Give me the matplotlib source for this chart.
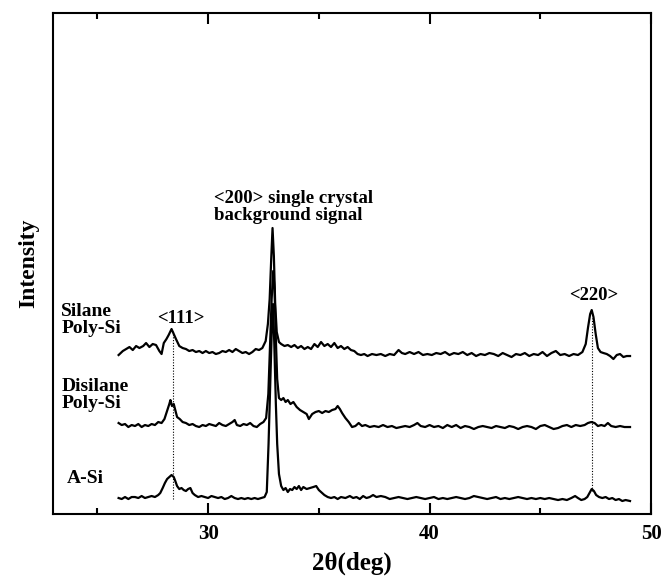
import matplotlib
matplotlib.use("Agg")
import matplotlib.pyplot as plt
from matplotlib.ticker import MultipleLocator

plt.rcParams['font.family'] = ['Liberation Serif', 'DejaVu Serif']
plt.rcParams['font.weight'] = 'bold'

# XRD traces (2theta in deg, intensity in arbitrary units, already offset)
silane_x = [25.96, 26.15, 26.3, 26.45, 26.6, 26.75, 26.9, 27.07, 27.2, 27.35, 27.5, 27.65, 27.8, 27.9,
            28.0, 28.12, 28.22, 28.35, 28.45, 28.55, 28.7, 28.85, 29.0, 29.15, 29.3, 29.45, 29.6, 29.75,
            29.9, 30.05, 30.2, 30.35, 30.5, 30.65, 30.8, 30.95, 31.1, 31.25, 31.4, 31.55, 31.7, 31.85,
            32.0, 32.15, 32.3, 32.45, 32.6, 32.7, 32.78, 32.85, 32.91, 32.97, 33.03, 33.1, 33.2, 33.3,
            33.45, 33.6, 33.75, 33.9, 34.05, 34.2, 34.35, 34.5, 34.65, 34.8, 34.95, 35.1, 35.25, 35.4,
            35.55, 35.7, 35.85, 36.0, 36.15, 36.3, 36.45, 36.6, 36.75, 36.9, 37.05, 37.2, 37.4, 37.6,
            37.8, 38.0, 38.2, 38.4, 38.6, 38.75, 38.9, 39.1, 39.3, 39.5, 39.7, 39.9, 40.1, 40.3, 40.5,
            40.7, 40.9, 41.1, 41.3, 41.5, 41.7, 41.9, 42.1, 42.3, 42.5, 42.7, 42.9, 43.1, 43.3, 43.5,
            43.7, 43.9, 44.1, 44.3, 44.5, 44.7, 44.9, 45.1, 45.3, 45.5, 45.7, 45.9, 46.1, 46.3, 46.5,
            46.7, 46.9, 47.05, 47.15, 47.25, 47.32, 47.4, 47.5, 47.6, 47.72, 47.85, 48.0, 48.15, 48.3,
            48.45, 48.6, 48.75, 48.9, 49.05]
silane_y = [159, 163, 165, 167, 164, 168, 166, 168, 171, 167, 170, 169, 163, 160,
            171, 175, 179, 185, 180, 175, 168, 166, 165, 163, 164, 162, 163, 161,
            163, 161, 162, 160, 161, 163, 162, 164, 162, 165, 163, 161, 162, 160,
            162, 165, 164, 166, 173, 190, 215, 255, 286, 258, 210, 182, 172, 170,
            168, 169, 167, 169, 166, 168, 165, 167, 165, 170, 167, 172, 168, 170,
            167, 171, 166, 168, 165, 167, 164, 163, 160, 159, 160, 158, 160, 159,
            160, 158, 160, 159, 164, 161, 160, 162, 160, 162, 159, 160, 159, 161, 160,
            162, 159, 161, 160, 162, 159, 161, 158, 160, 159, 161, 160, 158, 161, 159,
            157, 160, 159, 161, 158, 160, 159, 162, 158, 161, 163, 159, 160, 158, 160,
            159, 162, 170, 186, 200, 204, 197, 180, 166, 162, 161, 160, 158, 155,
            159, 160, 157, 158, 158]

disilane_x = [25.96, 26.1, 26.25, 26.4, 26.55, 26.7, 26.85, 27.0, 27.15, 27.3, 27.45, 27.6, 27.75, 27.9,
              28.03, 28.15, 28.25, 28.3, 28.37, 28.45, 28.52, 28.6, 28.72, 28.85, 29.0, 29.15, 29.3,
              29.45, 29.6, 29.75, 29.9, 30.05, 30.2, 30.35, 30.5, 30.65, 30.8, 30.95, 31.1, 31.2, 31.3,
              31.45, 31.6, 31.75, 31.9, 32.05, 32.2, 32.35, 32.5, 32.62, 32.72, 32.8, 32.87, 32.94, 33.0,
              33.06, 33.12, 33.2, 33.3, 33.4, 33.5, 33.6, 33.72, 33.85, 34.0, 34.15, 34.3, 34.45, 34.55,
              34.7, 34.85, 35.0, 35.15, 35.3, 35.45, 35.6, 35.75, 35.85, 35.95, 36.05, 36.2, 36.35, 36.5,
              36.65, 36.8, 36.95, 37.1, 37.3, 37.5, 37.7, 37.9, 38.1, 38.3, 38.5, 38.7, 38.9, 39.1, 39.3,
              39.45, 39.6, 39.8, 40.0, 40.2, 40.4, 40.6, 40.8, 41.0, 41.2, 41.4, 41.6, 41.8, 42.0, 42.2,
              42.4, 42.6, 42.8, 43.0, 43.2, 43.4, 43.6, 43.8, 44.0, 44.2, 44.4, 44.6, 44.8, 45.0, 45.2,
              45.4, 45.6, 45.8, 46.0, 46.2, 46.4, 46.6, 46.8, 47.0, 47.15, 47.3, 47.45, 47.6, 47.75, 47.9,
              48.05, 48.2, 48.4, 48.6, 48.8, 49.05]
disilane_y = [91, 89, 90, 87, 89, 88, 90, 87, 89, 88, 90, 89, 92, 91,
              95, 103, 110, 114, 108, 110, 104, 97, 95, 92, 91, 89, 90,
              88, 87, 89, 88, 90, 89, 88, 91, 89, 88, 90, 92, 94, 89,
              88, 90, 89, 91, 88, 87, 90, 92, 96, 120, 170, 215, 243, 225,
              175, 135, 116, 114, 116, 112, 114, 110, 112, 107, 104, 102, 100, 95,
              100, 102, 103, 101, 103, 102, 104, 105, 108, 105, 101, 96, 92, 87,
              88, 91, 88, 89, 87, 88, 87, 89, 87, 88, 86, 87, 88, 87, 89,
              91, 88, 87, 89, 87, 88, 86, 89, 87, 89, 86, 88, 87, 85, 87,
              88, 87, 86, 88, 87, 86, 88, 87, 85, 87, 88, 87, 85, 88, 89,
              87, 85, 86, 88, 89, 87, 89, 88, 89, 91, 92, 91, 88, 89, 88,
              91, 88, 87, 88, 87, 87]

asi_x = [25.96, 26.1, 26.25, 26.4, 26.55, 26.7, 26.85, 27.0, 27.15, 27.3, 27.45, 27.6, 27.75, 27.84,
         27.95, 28.05, 28.15, 28.25, 28.35, 28.45, 28.52, 28.6, 28.7, 28.8, 28.9, 29.0, 29.1, 29.2,
         29.3, 29.4, 29.55, 29.7, 29.85, 30.0, 30.15, 30.3, 30.45, 30.6, 30.75, 30.9, 31.05, 31.2,
         31.35, 31.5, 31.65, 31.8, 31.95, 32.1, 32.25, 32.4, 32.55, 32.65, 32.73, 32.8, 32.87, 32.93,
         32.99, 33.06, 33.12, 33.2, 33.3, 33.4, 33.5, 33.6, 33.7, 33.8, 33.9, 34.0, 34.1, 34.2, 34.3,
         34.45, 34.6, 34.75, 34.88, 35.0, 35.1, 35.25, 35.4, 35.55, 35.7, 35.85, 36.0, 36.2, 36.4,
         36.55, 36.7, 36.85, 37.0, 37.15, 37.3, 37.45, 37.6, 37.8, 38.0, 38.2, 38.4, 38.6, 38.8, 39.0,
         39.2, 39.4, 39.6, 39.8, 40.0, 40.2, 40.4, 40.6, 40.8, 41.0, 41.2, 41.4, 41.6, 41.8, 42.0,
         42.2, 42.4, 42.6, 42.8, 43.0, 43.2, 43.4, 43.6, 43.8, 44.0, 44.2, 44.4, 44.6, 44.8, 45.0,
         45.2, 45.4, 45.6, 45.8, 46.0, 46.2, 46.4, 46.57, 46.7, 46.85, 47.0, 47.12, 47.22, 47.32,
         47.42, 47.52, 47.65, 47.8, 47.95, 48.1, 48.25, 48.4, 48.55, 48.7, 48.85, 49.05]
asi_y = [16, 15, 17, 15, 17, 17, 16, 18, 16, 17, 18, 17, 19, 21,
         26, 31, 35, 37, 39, 37, 33, 28, 25, 26, 24, 23, 25, 26,
         21, 19, 17, 18, 17, 16, 18, 17, 16, 17, 15, 16, 18, 16,
         15, 16, 15, 16, 15, 16, 15, 16, 17, 22, 70, 125, 180, 210,
         170, 110, 70, 40, 28, 24, 26, 22, 25, 24, 27, 25, 28, 24, 27,
         25, 26, 27, 28, 24, 22, 19, 17, 16, 17, 15, 17, 16, 18,
         16, 17, 15, 18, 16, 17, 19, 17, 18, 17, 15, 16, 17, 16, 15,
         16, 17, 16, 15, 16, 17, 15, 16, 15, 16, 17, 16, 15, 16, 18,
         17, 16, 15, 16, 17, 15, 16, 15, 16, 17, 16, 15, 16, 15, 16,
         15, 16, 15, 14, 15, 14, 16, 18, 16, 14, 15, 17, 21, 25,
         23, 19, 17, 16, 17, 15, 16, 14, 15, 13, 14, 13]

peak_111 = 28.41
peak_220 = 47.32

fig = plt.figure(figsize=(6.63, 5.76), dpi=100)
ax = fig.add_axes([0.08, 0.1076, 0.902, 0.8698])

lw = 1.6
ax.plot(silane_x, silane_y, color='black', lw=lw)
ax.plot(disilane_x, disilane_y, color='black', lw=lw)
ax.plot(asi_x, asi_y, color='black', lw=lw)

# dotted guide lines through the Si peaks
ax.plot([peak_111, peak_111], [15, 183], color='black', lw=0.8, ls=(0, (1, 1.5)))
ax.plot([peak_220, peak_220], [23, 196], color='black', lw=0.8, ls=(0, (1, 1.5)))

ax.text(23.37, 194, 'Silane\nPoly-Si', fontsize=14, fontweight='bold', va='center', ha='left',
        linespacing=1.0)
ax.text(23.37, 119, 'Disilane\nPoly-Si', fontsize=14, fontweight='bold', va='center', ha='left',
        linespacing=1.0)
ax.text(23.62, 36, 'A-Si', fontsize=14, fontweight='bold', va='center', ha='left')
ax.text(28.75, 196, '<111>', fontsize=13.5, fontweight='bold', va='center', ha='center')
ax.text(47.43, 219, '<220>', fontsize=13.5, fontweight='bold', va='center', ha='center')
ax.text(30.27, 307, '<200> single crystal\nbackground signal', fontsize=13.5, fontweight='bold',
        va='center', ha='left', linespacing=0.95)

ax.set_xlim(23, 50)
ax.set_ylim(0, 501)
ax.set_yticks([])
ax.xaxis.set_major_locator(MultipleLocator(10))
ax.xaxis.set_minor_locator(MultipleLocator(5))
ax.tick_params(axis='x', which='major', direction='in', top=True, length=8, width=1.5,
               labelsize=15, pad=7)
ax.tick_params(axis='x', which='minor', direction='in', top=True, length=4, width=1.5)
for s in ax.spines.values():
    s.set_linewidth(1.5)

ax.set_xlabel('2\u03b8(deg)', fontsize=18, fontweight='bold', labelpad=6)
ax.set_ylabel('Intensity', fontsize=17, fontweight='bold', labelpad=10)

fig.savefig('out.png', dpi=100)
